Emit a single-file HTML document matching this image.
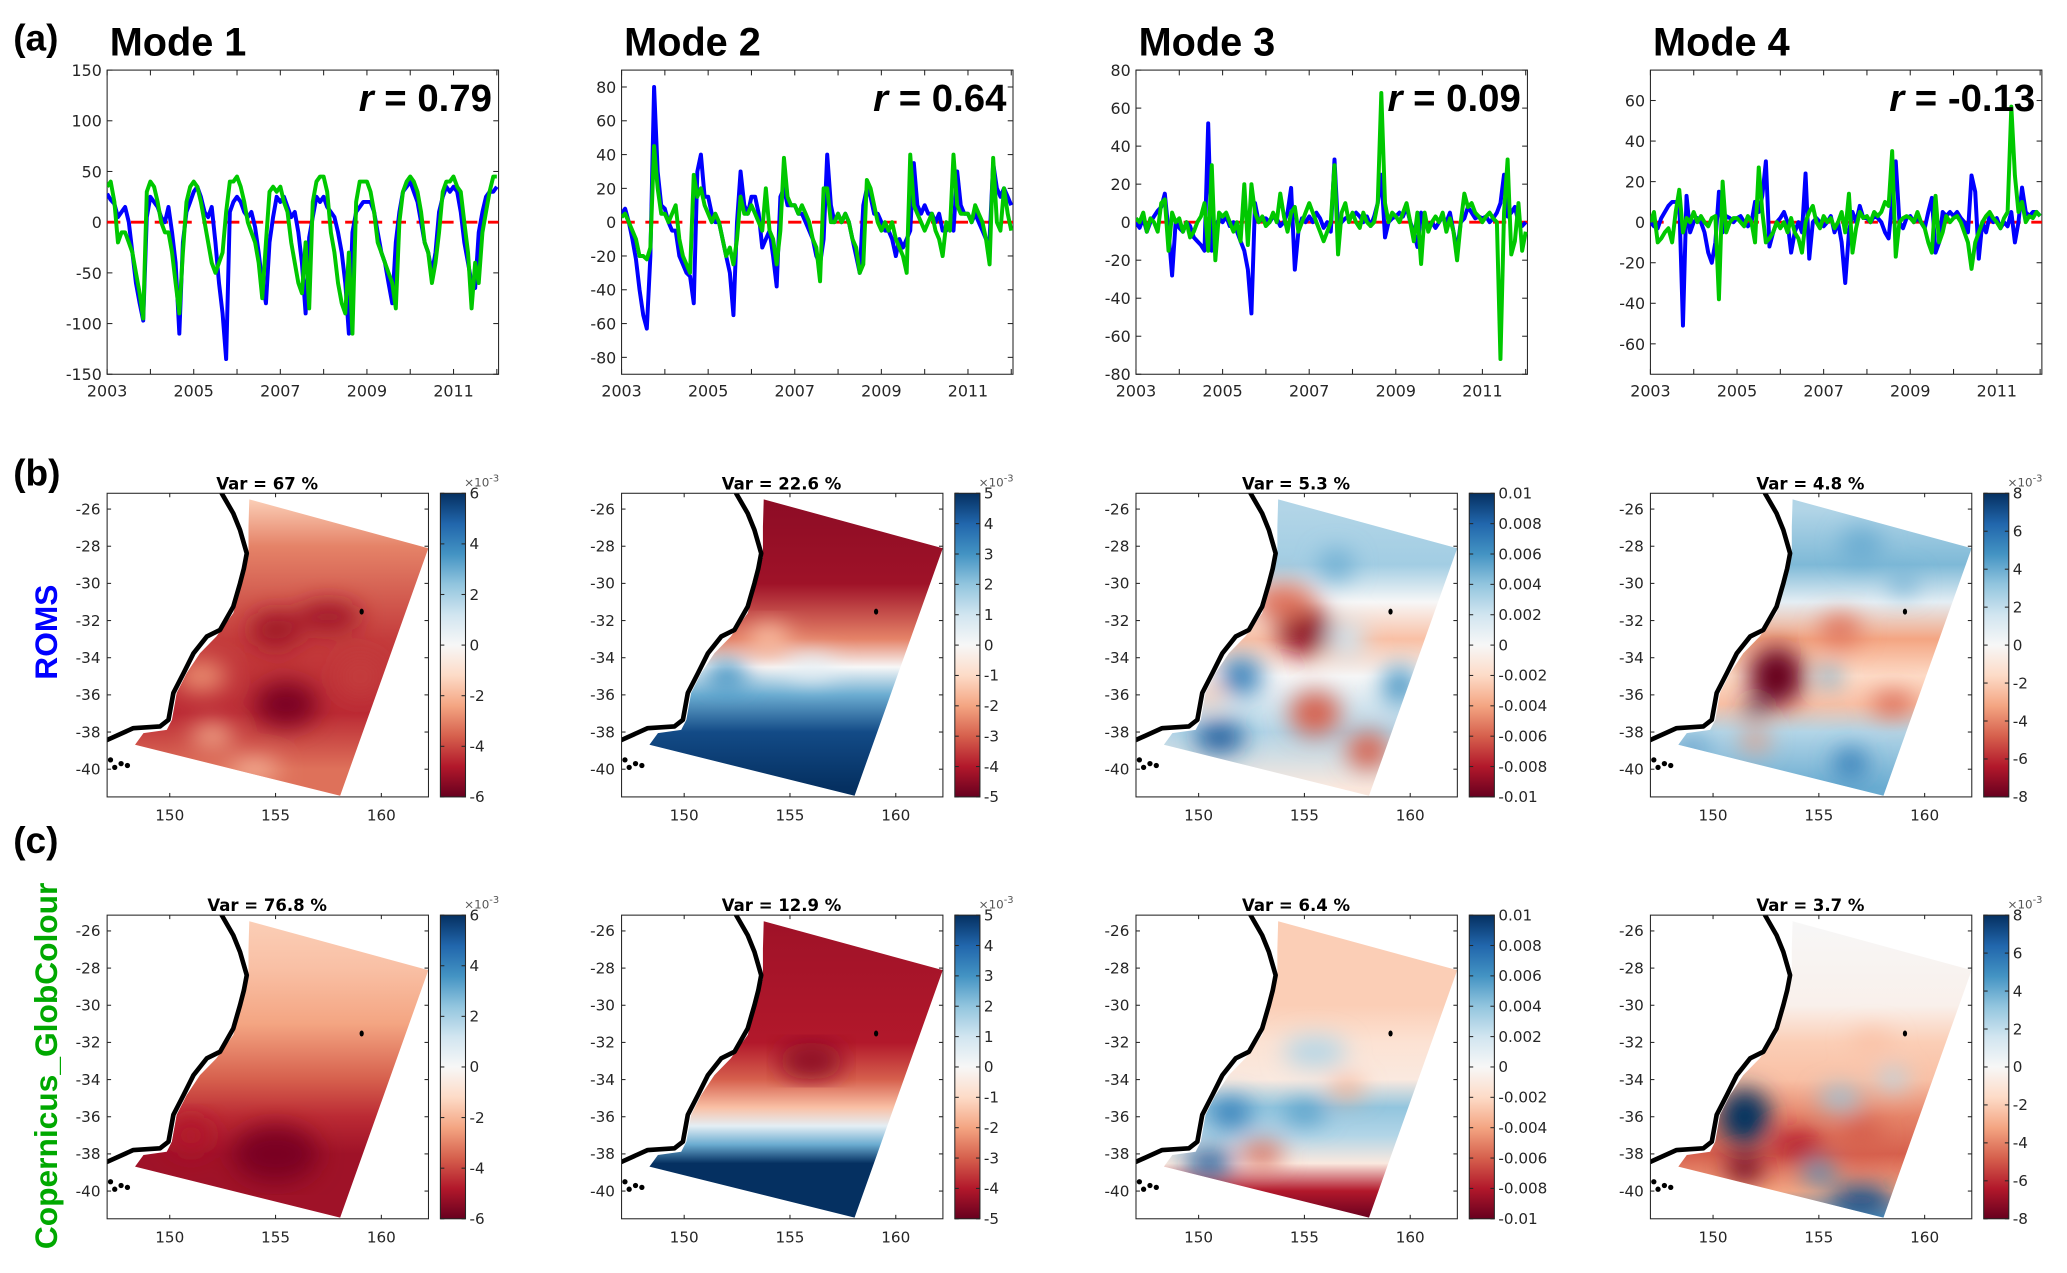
<!DOCTYPE html>
<html><head><meta charset="utf-8"><style>
html,body{margin:0;padding:0;background:#fff;}
svg{display:block;}
text{font-family:"DejaVu Sans","Liberation Sans",sans-serif;}
.big{font-family:"Liberation Sans",sans-serif;font-weight:bold;}
</style></head><body>
<svg id="fig" width="2067" height="1273" viewBox="0 0 1563 962.6" preserveAspectRatio="none" xmlns="http://www.w3.org/2000/svg">
<defs id="defs"><filter id="blur" x="-20%" y="-20%" width="140%" height="140%"><feGaussianBlur stdDeviation="9"/></filter></defs>
</svg>
<script>
// ---------- time series data (monthly, 2003.0 .. 2012.0) ----------
const modeTitles=["Mode 1","Mode 2","Mode 3","Mode 4"];
const rValues=["0.79","0.64","0.09","-0.13"];
const yLims=[150,90,80,75];
const yTicks=[[-150,-100,-50,0,50,100,150],[-80,-60,-40,-20,0,20,40,60,80],[-80,-60,-40,-20,0,20,40,60,80],[-60,-40,-20,0,20,40,60]];
const xTickLabels=[2003,2005,2007,2009,2011];
const romsM1=[28,22,18,5,10,15,0,-30,-60,-80,-97,5, 25,20,15,5,0,15,-10,-40,-110,-20,10,20, 30,35,25,10,5,15,-20,-60,-90,-135,10,20, 25,20,10,5,10,-5,-30,-60,-80,-20,5,25, 20,25,15,5,10,-10,-40,-90,-15,5,25,20, 25,15,10,5,-10,-30,-60,-110,-10,10,15,20, 20,20,10,-10,-30,-40,-60,-80,-20,10,30,35, 40,30,20,0,-20,-30,-50,-30,10,25,35,30, 35,30,10,-20,-40,-60,-65,-10,10,25,30,30, 35];
const gcM1=[35,40,20,-20,-10,-10,-20,-30,-50,-70,-95,30, 40,35,20,0,-10,-10,-30,-60,-90,-30,20,35, 40,35,20,0,-20,-40,-50,-40,-30,10,40,40, 45,35,20,0,-10,-20,-40,-75,-20,30,35,30, 35,20,10,-20,-40,-60,-70,-20,-85,20,40,45, 45,30,-10,-30,-60,-80,-90,-30,-110,20,40,40, 40,30,10,-20,-30,-40,-50,-60,-85,0,30,40, 45,40,30,10,-20,-30,-60,-40,-10,30,40,40, 45,35,30,0,-30,-85,-40,-60,-10,10,30,45, 45];
const romsM2=[5,8,0,-10,-22,-40,-55,-63,-20,80,30,10, 8,0,-5,-5,-20,-25,-30,-32,-48,30,40,15, 15,5,0,0,-10,-20,-30,-55,0,30,10,5, 15,15,5,-15,-10,-5,-20,-38,15,20,10,10, 10,5,5,0,-5,-10,-20,-25,-10,40,10,0, 5,0,5,0,-10,-20,-30,10,20,15,5,5, 0,-5,-5,-10,-20,-10,-15,-10,-5,35,10,5, 10,5,5,0,5,-5,-5,0,-5,30,10,5, 5,0,5,0,-5,-10,-10,35,20,15,20,15, 10];
const gcM2=[3,5,0,-5,-10,-20,-20,-22,-15,45,20,5, 5,0,5,10,-10,-20,-25,-30,28,15,20,10, 5,0,5,0,-10,-20,-15,-25,-10,15,5,5, 10,5,0,-5,20,-5,-10,-25,-5,38,15,10, 10,5,10,5,0,-10,-15,-35,20,20,0,0, 5,0,5,0,-10,-15,-30,-25,25,20,10,0, -5,0,-5,0,-10,-15,-20,-30,40,10,5,0, -5,0,5,-5,-10,-20,0,-5,40,10,5,5, 5,0,10,5,0,-10,-25,38,0,-5,20,5, -5];
const romsM3=[0,-3,2,-5,0,3,6,8,15,-5,-28,0, -3,-5,0,-2,-8,-10,-12,-15,52,-15,-3,2, 0,3,-2,0,-5,-10,-15,-25,-48,10,0,2, 2,0,3,2,-2,0,5,18,-25,-5,2,0, 3,0,5,2,-3,0,-5,33,-3,0,2,3, 3,5,3,0,3,-2,3,10,25,-8,0,2, 3,5,3,8,0,-5,-13,5,0,-2,0,-3, 0,3,0,5,-5,-15,0,2,8,5,2,3, 2,3,0,2,5,10,25,3,5,8,0,-2, 0];
const gcM3=[2,0,5,-5,2,0,-5,10,12,-15,5,0, 2,-5,0,-8,-5,0,3,10,-15,30,-20,5, 3,5,0,-5,0,-10,20,-12,20,5,0,3, -2,0,5,0,15,3,-5,5,8,-5,0,5, 10,5,0,-5,-10,-5,0,30,-17,5,10,0, 5,0,-3,5,0,-2,0,10,68,10,0,5, 3,0,5,10,0,-10,5,-22,5,-5,0,3, 0,5,-5,2,-5,-20,0,15,8,10,5,3, 0,3,5,2,0,-72,5,33,-17,-10,10,-15, -5];
const romsM4=[0,-2,-3,2,5,8,10,10,10,-51,13,-5, 0,2,0,-5,-15,-20,-10,15,-5,3,2,0, 2,3,0,-2,0,10,5,13,30,-12,-5,0, 2,5,0,-15,-5,0,-5,24,-18,0,2,0, -2,0,3,-5,0,-10,-30,-5,5,0,8,2, 2,0,3,2,0,-5,-8,10,30,0,-3,2, 3,0,2,0,-3,5,12,-15,-10,5,3,5, 3,5,2,0,-5,23,15,-18,0,-5,3,0, 2,-3,0,-2,5,-10,0,17,5,3,5,5, 3];
const gcM4=[0,5,-10,-8,-5,-3,-10,5,16,-5,2,0, 5,0,3,0,-2,2,3,-38,20,-5,0,2, 2,0,-2,3,0,-10,27,5,-10,-8,-5,0, -3,0,-5,2,-5,-8,-15,0,5,8,0,-3, 3,0,2,-3,0,5,-5,14,-15,-3,5,2, 3,0,5,3,5,10,8,35,-17,0,2,3, 2,0,5,0,-3,-10,-15,13,-10,-5,3,0, 2,3,0,-5,-10,-23,-10,-5,0,3,5,2, 0,-3,2,5,57,23,5,10,0,3,2,5, 3];
const romsSeries=[romsM1,romsM2,romsM3,romsM4];
const gcSeries=[gcM1,gcM2,gcM3,gcM4];
// ---------- map data ----------
const varRoms=["67","22.6","5.3","4.8"];
const varGc=["76.8","12.9","6.4","3.7"];
const cbMax=[6,5,0.01,8];
const cbTickLabels=[["6","4","2","0","-2","-4","-6"],["5","4","3","2","1","0","-1","-2","-3","-4","-5"],["0.01","0.008","0.006","0.004","0.002","0","-0.002","-0.004","-0.006","-0.008","-0.01"],["8","6","4","2","0","-2","-4","-6","-8"]];
const cbTickValues=[[6,4,2,0,-2,-4,-6],[5,4,3,2,1,0,-1,-2,-3,-4,-5],[0.01,0.008,0.006,0.004,0.002,0,-0.002,-0.004,-0.006,-0.008,-0.01],[8,6,4,2,0,-2,-4,-6,-8]];
const latTicks=[-26,-28,-30,-32,-34,-36,-38,-40];
const lonTicks=[150,155,160];
const gradRoms=[
 [[-25.5,-0.25],[-28,-0.5],[-33,-0.7],[-37,-0.75],[-40,-0.55]],
 [[-25.5,-0.9],[-30,-0.85],[-33,-0.5],[-34.5,0],[-36,0.5],[-38,0.9],[-41,1]],
 [[-26,0.3],[-29,0.35],[-31,0],[-33,-0.3],[-35,0],[-38,0.3],[-41,-0.1]],
 [[-26,0.3],[-29,0.45],[-31,0.1],[-33,-0.4],[-35,-0.2],[-36.5,-0.3],[-38,0.3],[-41,0.5]]];
const gradGc=[
 [[-25.5,-0.25],[-28,-0.3],[-31,-0.4],[-34,-0.6],[-36,-0.75],[-38,-0.85],[-41,-0.85]],
 [[-25.5,-0.85],[-32,-0.8],[-34,-0.6],[-35.5,-0.3],[-36.5,0.1],[-37.5,0.5],[-38.5,1],[-41,1]],
 [[-25.5,-0.25],[-30,-0.25],[-32,-0.15],[-34,-0.1],[-35.5,0.4],[-37,0.3],[-38.5,-0.1],[-40,-0.8],[-41.5,-1]],
 [[-25.5,0],[-30,-0.05],[-32,-0.25],[-34,-0.3],[-36,-0.5],[-38,-0.6],[-40,-0.4],[-41.5,0.6]]];
const blobsRoms=[
 [[155,-32.5,1.2,1,-0.85],[157.5,-31.8,1.5,0.8,-0.85],[155.5,-36.5,1.5,1.2,-0.95],[152,-38.2,1,0.6,-0.35],[151.5,-35,1.2,0.8,-0.45],[154,-40,1.2,0.5,-0.3],[159,-35,1,1,-0.7]],
 [[152,-35,1,0.8,0.6],[156,-34.5,1.2,0.6,0.1],[154,-33,1,0.8,-0.3]],
 [[155,-32.5,1.3,1.3,-0.9],[154,-31,1.5,1,-0.55],[156.5,-29,0.8,0.8,0.5],[152,-35,1,1,0.7],[151,-38.3,1.2,0.8,0.85],[155.5,-37,1.2,1.2,-0.6],[158,-39,1,1,-0.6],[159.5,-35.5,0.8,1,0.6],[150.5,-36,0.6,0.6,-0.3],[157,-33,0.9,1,0.2]],
 [[153,-35,1.3,1.6,-1],[152,-36.8,0.5,0.4,1],[155.5,-35,0.4,0.6,0.6],[156,-32.5,1,0.8,-0.55],[158.5,-36.5,1,0.6,-0.6],[152,-38.5,0.7,0.5,-0.45],[149,-38.8,0.8,0.3,0.7],[156.5,-39.7,0.8,0.8,0.7],[159,-30,0.6,0.6,0.5],[157,-28,1,1,0.5]]];
const blobsGc=[
 [[155,-38,2,1.5,-0.95],[151,-37,1,1,-0.8]],
 [[156,-33,1.5,1,-0.9]],
 [[155.5,-32.5,1.5,0.8,0.3],[151.5,-35.8,1,0.8,0.7],[155,-35.8,1,0.5,0.6],[150.5,-38.5,1.2,0.7,0.85],[153,-38,1,0.6,-0.6],[157,-34.5,0.8,0.5,-0.4]],
 [[151.5,-36,1.2,1.5,1],[151.5,-38.8,0.9,0.7,-1],[154,-37.5,1.2,0.7,-0.8],[157,-37,1,1,-0.6],[155,-39,0.8,0.6,0.6],[157,-40.5,1.5,0.8,0.9],[156,-35,1,0.6,0.4],[157.5,-32,1,0.6,-0.3],[158.5,-34,0.7,0.6,0.3]]];
const coast=[[152.3,-24.5],[152.46,-25.16],[153.0,-26.23],[153.32,-27.13],[153.64,-28.38],[153.5,-29.2],[153.32,-30.0],[153.0,-31.25],[152.38,-32.5],[151.75,-32.86],[151.12,-33.76],[150.65,-34.83],[150.17,-35.9],[149.94,-37.34],[149.54,-37.7],[148.28,-37.79],[147.06,-38.42],[146.5,-38.7]];
const domain=[[153.76,-25.48],[153.72,-26.95],[153.72,-28.56],[153.4,-30.0],[153.0,-31.6],[152.2,-32.86],[151.43,-33.76],[150.8,-34.83],[150.33,-35.9],[150.1,-37.34],[149.86,-37.88],[148.76,-38.06],[148.36,-38.69],[158.05,-41.43],[162.22,-28.11]];

const NS="http://www.w3.org/2000/svg";
const svg=document.getElementById('fig');
const defs=document.getElementById('defs');
function mk(tag,attrs,parent){const e=document.createElementNS(NS,tag);for(const k in attrs)e.setAttribute(k,attrs[k]);(parent||svg).appendChild(e);return e;}
function txt(s,attrs,parent){const e=mk('text',attrs,parent);e.textContent=s;return e;}
const rdbu=['#67001f','#b2182b','#d6604d','#f4a582','#fddbc7','#f7f7f7','#d1e5f0','#92c5de','#4393c3','#2166ac','#053061'];
function hex2(h){return [1,3,5].map(i=>parseInt(h.substr(i,2),16));}
function cmap(v){v=Math.max(-1,Math.min(1,v));const f=(v+1)/2*10;const i=Math.min(9,Math.floor(f));const t=f-i;const a=hex2(rdbu[i]),b=hex2(rdbu[i+1]);return 'rgb('+a.map((x,j)=>Math.round(x+(b[j]-x)*t)).join(',')+')';}

const lefts=[81,470,859,1248];
const la=txt('(a)',{x:10,y:38,'font-size':28,class:'big'});


const lb=txt('(b)',{x:10,y:367,'font-size':28,class:'big'});


const lc=txt('(c)',{x:10,y:645,'font-size':28,class:'big'});


const roms=txt('ROMS',{x:0,y:0,'font-size':24,class:'big',fill:'#0000ff','text-anchor':'middle',transform:'translate(43,478) rotate(-90)'});


const cop=txt('Copernicus_GlobColour',{x:0,y:0,'font-size':24,class:'big',fill:'#00a800','text-anchor':'middle',transform:'translate(43,806) rotate(-90)'});



const TT=53,TB=283,TW=296;
for(let k=0;k<4;k++){
  const L=lefts[k];
  const g=mk('g',{});
  
  
  const xs=t=>L+(t-2003)/9.04*TW;
  const ys=v=>TT+(yLims[k]-v)/(2*yLims[k])*(TB-TT);
  const t1=txt(modeTitles[k],{x:L+2,y:42,'font-size':30,class:'big'},g);
  
  
  const frame=mk('rect',{x:L,y:TT,width:TW,height:TB-TT,fill:'none',stroke:'#262626','stroke-width':0.8},g);
  
  
  yTicks[k].forEach(v=>{
    const y=ys(v);
    mk('line',{x1:L,x2:L+4,y1:y,y2:y,stroke:'#262626','stroke-width':0.8},g);
    mk('line',{x1:L+TW-4,x2:L+TW,y1:y,y2:y,stroke:'#262626','stroke-width':0.8},g);
    const tl=txt(String(v),{x:L-4,y:y+4.5,'font-size':12,'text-anchor':'end',fill:'#262626'},g);
    
    
  });
  for(let yr=2003;yr<=2012;yr++){
    const x=xs(yr);
    mk('line',{x1:x,x2:x,y1:TB,y2:TB-4,stroke:'#262626','stroke-width':0.8},g);
    mk('line',{x1:x,x2:x,y1:TT,y2:TT+4,stroke:'#262626','stroke-width':0.8},g);
  }
  xTickLabels.forEach(yr=>{
    const tl=txt(String(yr),{x:xs(yr),y:TB+17,'font-size':12,'text-anchor':'middle',fill:'#262626'},g);
    
    
  });
  const clipId='tc'+k;
  const cp=mk('clipPath',{id:clipId},defs);
  mk('rect',{x:L,y:TT,width:TW,height:TB-TT},cp);
  const toPts=arr=>arr.map((v,i)=>xs(2003+i/12).toFixed(1)+','+ys(v).toFixed(1)).join(' ');
  const zl=mk('line',{x1:L,x2:L+TW,y1:ys(0),y2:ys(0),stroke:'#ff0000','stroke-width':2.2,'stroke-dasharray':'10,8'},g);
  
  
  const pb=mk('polyline',{points:toPts(romsSeries[k]),fill:'none',stroke:'#0000ff','stroke-width':3,'stroke-linejoin':'round','clip-path':'url(#'+clipId+')'},g);
  
  
  const pg=mk('polyline',{points:toPts(gcSeries[k]),fill:'none',stroke:'#00c800','stroke-width':3,'stroke-linejoin':'round','clip-path':'url(#'+clipId+')'},g);
  
  
  const rl=mk('text',{x:L+291,y:84,'font-size':29,class:'big','text-anchor':'end'},g);
  
  
  const ts1=mk('tspan',{'font-style':'italic'},rl);ts1.textContent='r';
  const ts2=mk('tspan',{},rl);ts2.textContent=' = '+rValues[k];
}

const MH=229.6,MW=243;
function drawMap(k,row){
  const L=lefts[k],T=row?692:373,B=T+MH;
  const px=lon=>L+(lon-147.04)*16, py=lat=>T+(-25.15-lat)*14.05;
  const g=mk('g',{});
  
  
  const vt=txt('Var = '+(row?varGc:varRoms)[k]+' %',{x:L+121,y:T-3,'font-size':12.5,'font-weight':'bold','text-anchor':'middle'},g);
  
  
  const id='m'+row+'_'+k;
  const gr=mk('linearGradient',{id:'g'+id,gradientUnits:'userSpaceOnUse',x1:0,x2:0,y1:py(-25.15),y2:py(-41.5)},defs);
  (row?gradGc:gradRoms)[k].forEach(s=>{mk('stop',{offset:((s[0]+25.15)/-16.35).toFixed(3),'stop-color':cmap(s[1])},gr);});
  const dc=mk('clipPath',{id:'d'+id},defs);
  const dpts=domain.map(p=>px(p[0]).toFixed(1)+','+py(p[1]).toFixed(1)).join(' ');
  mk('polygon',{points:dpts},dc);
  const field=mk('g',{'clip-path':'url(#d'+id+')'},g);
  
  
  mk('rect',{x:L,y:T,width:MW,height:MH,fill:'url(#g'+id+')'},field);
  const bl=mk('g',{filter:'url(#blur)'},field);
  (row?blobsGc:blobsRoms)[k].forEach(b=>{
    const e=mk('ellipse',{cx:px(b[0]),cy:py(b[1]),rx:b[2]*16,ry:b[3]*14.05,fill:cmap(b[4])},bl);
    
    
  });
  const ac=mk('clipPath',{id:'a'+id},defs);
  mk('rect',{x:L,y:T,width:MW,height:MH},ac);
  const cl=mk('polyline',{points:coast.map(p=>px(p[0]).toFixed(1)+','+py(p[1]).toFixed(1)).join(' '),fill:'none',stroke:'#000','stroke-width':3.5,'stroke-linejoin':'round','clip-path':'url(#a'+id+')'},g);
  
  
  [[147.2,-39.5],[147.7,-39.7],[148.0,-39.8],[147.4,-39.9]].forEach(p=>{
    const d=mk('circle',{cx:px(p[0]),cy:py(p[1]),r:2,fill:'#000'},g);
    
    
  });
  const lh=mk('ellipse',{cx:px(159.07),cy:py(-31.52),rx:1.6,ry:2.3,fill:'#000'},g);
  
  
  const fr=mk('rect',{x:L,y:T,width:MW,height:MH,fill:'none',stroke:'#262626','stroke-width':0.8},g);
  
  
  latTicks.forEach(v=>{
    const y=py(v);
    mk('line',{x1:L,x2:L+3,y1:y,y2:y,stroke:'#262626','stroke-width':0.8},g);
    mk('line',{x1:L+MW-3,x2:L+MW,y1:y,y2:y,stroke:'#262626','stroke-width':0.8},g);
    const tl=txt(String(v),{x:L-5,y:y+4,'font-size':11.5,'text-anchor':'end',fill:'#262626'},g);
    
    
  });
  lonTicks.forEach(v=>{
    const x=px(v);
    mk('line',{x1:x,x2:x,y1:B,y2:B-3,stroke:'#262626','stroke-width':0.8},g);
    mk('line',{x1:x,x2:x,y1:T,y2:T+3,stroke:'#262626','stroke-width':0.8},g);
    const tl=txt(String(v),{x:x,y:B+18,'font-size':11.5,'text-anchor':'middle',fill:'#262626'},g);
    
    
  });
  const cx=L+252,cw=19;
  const cg=mk('linearGradient',{id:'c'+id,x1:0,x2:0,y1:0,y2:1},defs);
  for(let i=0;i<=10;i++)mk('stop',{offset:i/10,'stop-color':rdbu[10-i]},cg);
  const cb=mk('rect',{x:cx,y:T,width:cw,height:MH,fill:'url(#c'+id+')',stroke:'#262626','stroke-width':0.8},g);
  
  
  cbTickValues[k].forEach((v,i)=>{
    const y=T+(cbMax[k]-v)/(2*cbMax[k])*MH;
    mk('line',{x1:cx,x2:cx+3,y1:y,y2:y,stroke:'#262626','stroke-width':0.8},g);
    mk('line',{x1:cx+cw-3,x2:cx+cw,y1:y,y2:y,stroke:'#262626','stroke-width':0.8},g);
    const tl=txt(cbTickLabels[k][i],{x:cx+cw+3,y:y+4,'font-size':11.5,fill:'#262626'},g);
    
    
  });
  if(k!==2){
    const ex=mk('text',{x:cx+18,y:T-5,'font-size':9,fill:'#555'},g);
    
    
    ex.textContent='×10';
    const sp=mk('tspan',{dy:-4,'font-size':7.5},ex);sp.textContent='-3';
  }
}
for(let k=0;k<4;k++){drawMap(k,0);drawMap(k,1);}
</script>
</body></html>
